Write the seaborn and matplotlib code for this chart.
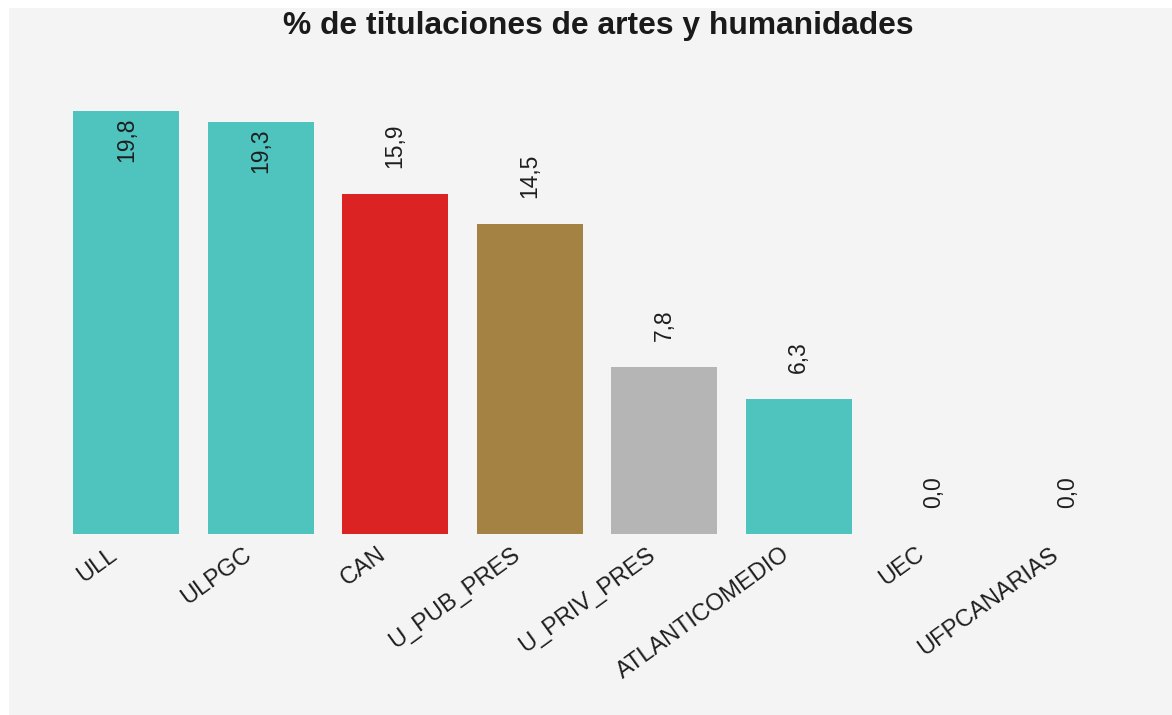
import matplotlib
matplotlib.use("Agg")
import matplotlib.pyplot as plt
import matplotlib.transforms as mtransforms
import seaborn as sns
import pandas as pd
from matplotlib.patches import Rectangle

categories = ["ULL", "ULPGC", "CAN", "U_PUB_PRES", "U_PRIV_PRES", "ATLANTICOMEDIO", "UEC", "UFPCANARIAS"]
values = [19.8, 19.3, 15.9, 14.5, 7.8, 6.3, 0.0, 0.0]
colors = ["#4fc3be", "#4fc3be", "#dc2323", "#a38244", "#b5b5b5", "#4fc3be", "#4fc3be", "#4fc3be"]
inside = [True, True, False, False, False, False, False, False]
title = "% de titulaciones de artes y humanidades"

sns.set_theme(style="white")
plt.rcParams['font.family'] = ['Liberation Sans', 'DejaVu Sans']

W, H = 1172, 715
fig = plt.figure(figsize=(W / 100, H / 100), dpi=100, facecolor="white")
fig.patches.append(Rectangle((9 / W, 0), 1 - 9 / W, 1 - 8 / H, transform=fig.transFigure,
                             facecolor="#f4f4f4", edgecolor="none", zorder=-10))
ax = fig.add_axes([59 / W, (H - 534) / H, (1135 - 59) / W, (534 - 64) / H])
ax.set_facecolor("none")
ax.set_zorder(1)

df = pd.DataFrame({"cat": categories, "val": values})
sns.barplot(data=df, x="cat", y="val", hue="cat", palette=colors, legend=False,
            width=0.79, saturation=1, linewidth=0, edgecolor="none", ax=ax)
ax.set_ylim(0, 22)
ax.set_xlim(-0.5, len(categories) - 0.5)

for i, (v, ins) in enumerate(zip(values, inside)):
    lab = f"{v:.1f}".replace(".", ",")
    if ins:
        ax.annotate(lab, (i, v), xytext=(0, -5), textcoords="offset points",
                    rotation=90, ha="center", va="top", fontsize=16.5, color="#1e1e1e")
    else:
        ax.annotate(lab, (i, v), xytext=(0, 19), textcoords="offset points",
                    rotation=90, ha="center", va="bottom", fontsize=16.5, color="#1e1e1e")

ax.set_xlabel("")
ax.set_ylabel("")
ax.set_yticks([])
ax.tick_params(axis="x", length=0, pad=6)
ax.set_xticks(range(len(categories)))
ax.set_xticklabels(categories, rotation=36, ha="right", rotation_mode="anchor",
                   fontsize=17, color="#1e1e1e")
offset = mtransforms.ScaledTranslation(-18 / 100, -1 / 100, fig.dpi_scale_trans)
for lbl in ax.get_xticklabels():
    lbl.set_transform(lbl.get_transform() + offset)
for s in ax.spines.values():
    s.set_visible(False)

fig.text(598 / W, 1 - 26 / H, title, ha="center", va="center",
         fontsize=22.9, fontweight="bold", color="#1a1a1a")

fig.savefig("out.png", dpi=100, facecolor="white")
